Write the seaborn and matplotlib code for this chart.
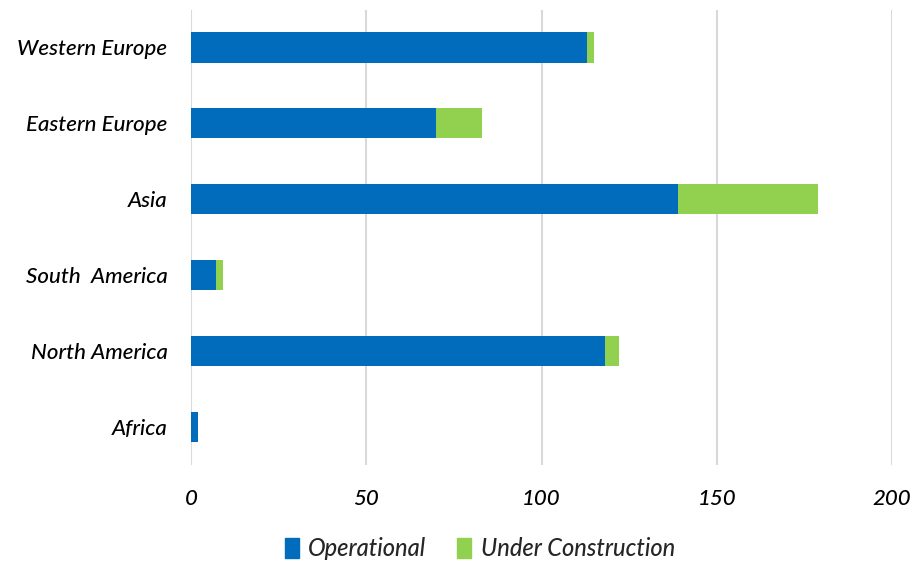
import pandas as pd
import matplotlib.pyplot as plt
import seaborn as sns
from matplotlib.patches import Patch

regions = ['Western Europe', 'Eastern Europe', 'Asia', 'South  America', 'North America', 'Africa']
operational = [113, 70, 139, 7, 118, 2]
under_construction = [2, 13, 40, 2, 4, 0]
x_ticks = [0, 50, 100, 150, 200]

blue = '#006CBB'
green = '#92D050'


def main():
    sns.set_theme(style='white')
    plt.rcParams['font.family'] = ['Lato', 'DejaVu Sans']

    df = pd.DataFrame({'region': regions, 'operational': operational,
                       'under_construction': under_construction})
    df['total'] = df['operational'] + df['under_construction']

    fig = plt.figure(figsize=(9.14, 5.61), dpi=100)
    ax = fig.add_axes([0.209, 0.171, 0.767, 0.811])

    # stacked: total in green first, operational blue on top
    sns.barplot(data=df, x='total', y='region', orient='h', color=green,
                width=0.4, saturation=1, linewidth=0, ax=ax, zorder=2)
    sns.barplot(data=df, x='operational', y='region', orient='h', color=blue,
                width=0.4, saturation=1, linewidth=0, ax=ax, zorder=3)

    ax.set_xlim(0, 200)
    ax.set_ylim(5.5, -0.49)
    ax.set_xticks(x_ticks)
    ax.set_xticklabels([str(t) for t in x_ticks])
    ax.xaxis.grid(True, color='#D9D9D9', linewidth=1.5, zorder=0)
    ax.set_axisbelow(True)
    for s in ax.spines.values():
        s.set_visible(False)
    ax.set_xlabel('')
    ax.set_ylabel('')
    ax.tick_params(axis='x', length=0, pad=17, labelsize=16)
    ax.tick_params(axis='y', length=0, pad=17, labelsize=16)
    for lab in ax.get_xticklabels() + ax.get_yticklabels():
        lab.set_fontstyle('italic')
        lab.set_fontweight('medium')
        lab.set_color('black')

    handles = [Patch(color=blue, label='Operational'),
               Patch(color=green, label='Under Construction')]
    fig.legend(handles=handles, loc='lower center', bbox_to_anchor=(0.525, -0.036),
               ncol=2, frameon=False, handlelength=0.6, handleheight=0.9,
               handletextpad=0.4, columnspacing=1.3,
               prop={'size': 17, 'style': 'italic', 'weight': 'medium'})

    fig.savefig('out.png', dpi=100)
    plt.close(fig)


if __name__ == '__main__':
    main()
